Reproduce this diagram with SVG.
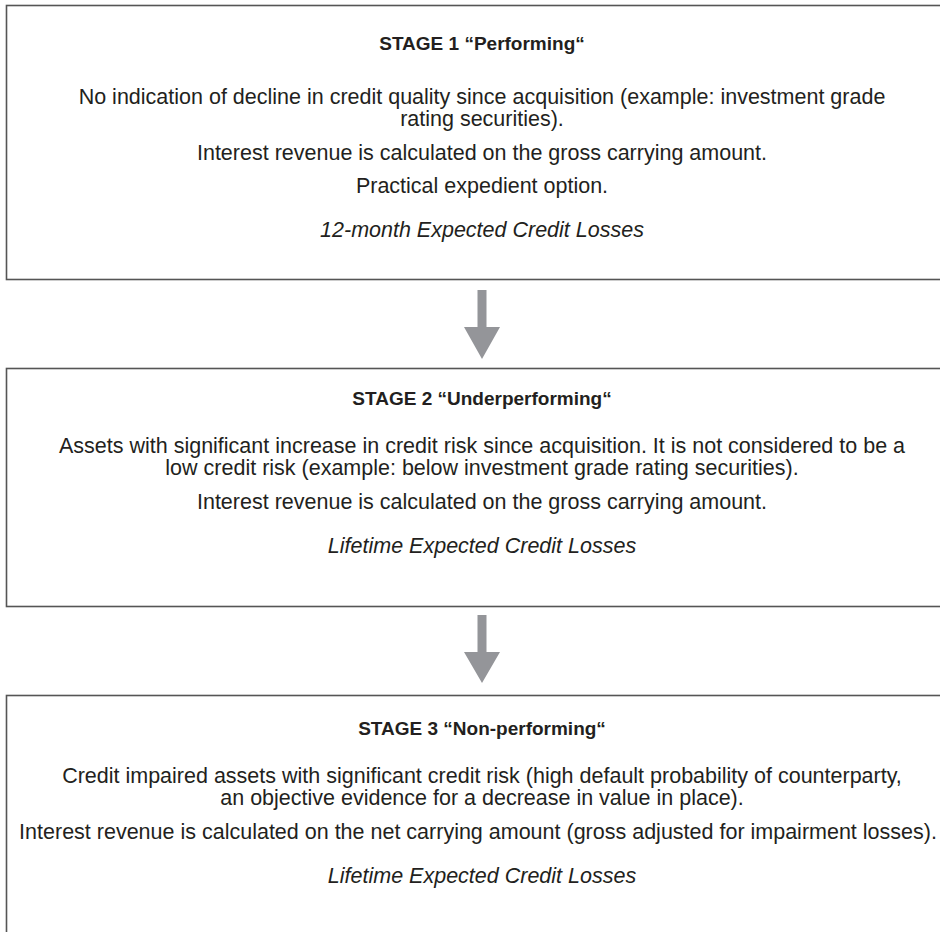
<svg xmlns="http://www.w3.org/2000/svg" width="940" height="932" viewBox="0 0 940 932">
<style>
.box{fill:#fff;stroke:#555;stroke-width:1.6}
.t{font-family:"Liberation Sans",Arial,sans-serif;font-size:21.5px;fill:#231f20;text-anchor:middle}
.b{font-weight:bold;font-size:19px}
.i{font-style:italic}
.arr{fill:#949599}
</style>
<rect width="940" height="932" fill="#fff"/>
<g id="stage1">
<rect class="box" x="6.5" y="5.5" width="945" height="274"/>
<text class="t b" x="482" y="50">STAGE 1 “Performing“</text>
<text class="t" x="482" y="104">No indication of decline in credit quality since acquisition (example: investment grade</text>
<text class="t" x="482" y="126">rating securities).</text>
<text class="t" x="482" y="160">Interest revenue is calculated on the gross carrying amount.</text>
<text class="t" x="482" y="193">Practical expedient option.</text>
<text class="t i" x="482" y="237">12-month Expected Credit Losses</text>
</g>
<g id="stage2">
<rect class="box" x="6.5" y="368.5" width="945" height="238"/>
<text class="t b" x="482" y="405">STAGE 2 “Underperforming“</text>
<text class="t" x="482" y="453">Assets with significant increase in credit risk since acquisition. It is not considered to be a</text>
<text class="t" x="482" y="475">low credit risk (example: below investment grade rating securities).</text>
<text class="t" x="482" y="509">Interest revenue is calculated on the gross carrying amount.</text>
<text class="t i" x="482" y="553">Lifetime Expected Credit Losses</text>
</g>
<g id="stage3">
<rect class="box" x="6.5" y="695.5" width="945" height="250"/>
<text class="t b" x="482" y="735">STAGE 3 “Non-performing“</text>
<text class="t" x="482" y="783">Credit impaired assets with significant credit risk (high default probability of counterparty,</text>
<text class="t" x="482" y="805">an objective evidence for a decrease in value in place).</text>
<text class="t" x="478" y="839">Interest revenue is calculated on the net carrying amount (gross adjusted for impairment losses).</text>
<text class="t i" x="482" y="883">Lifetime Expected Credit Losses</text>
</g>
<g id="connectors">
<polygon class="arr" points="477.5,290 486.5,290 486.5,327 500,327 482,359 464,327 477.5,327"/>
<polygon class="arr" points="477.5,615 486.5,615 486.5,652 500,652 482,683 464,652 477.5,652"/>
</g>
</svg>
